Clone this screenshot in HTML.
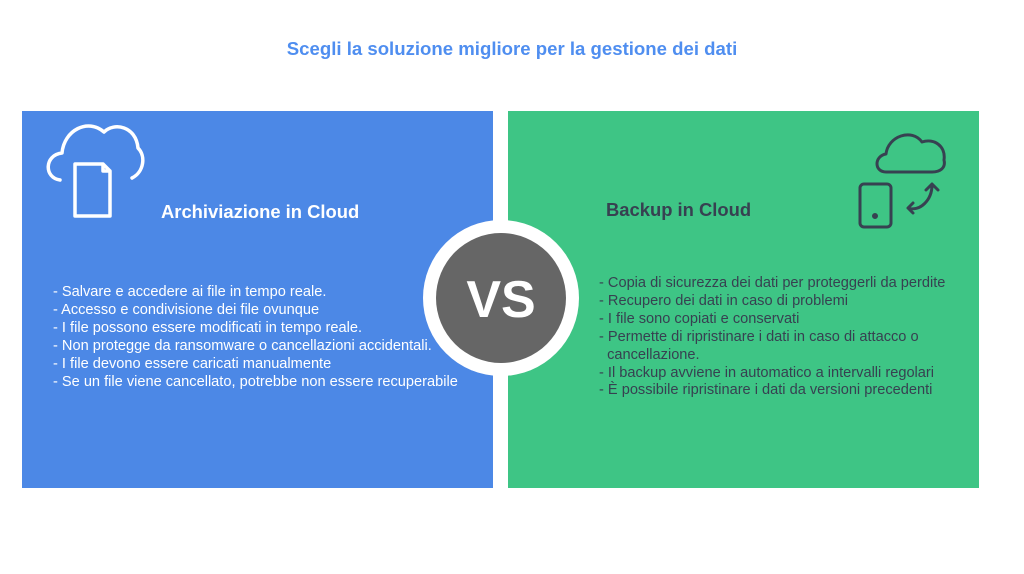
<!DOCTYPE html>
<html><head><meta charset="utf-8"><style>
body{margin:0;width:1024px;height:574px;background:#fff;position:relative;overflow:hidden;font-family:"Liberation Sans",sans-serif}
.t{position:absolute;left:0;width:1024px;top:38px;text-align:center;color:#4f8ef0;font-weight:bold;font-size:18.6px}
.p{position:absolute;top:111px;height:377px;width:471px}
.h{position:absolute;font-weight:bold;font-size:18.4px}
.l{position:absolute;font-size:14.6px;line-height:17.9px;white-space:pre}
</style></head><body>
<div class="t">Scegli la soluzione migliore per la gestione dei dati</div>
<div class="p" style="left:22px;background:#4c88e6"></div>
<div class="p" style="left:508px;background:#3ec585"></div>
<svg style="position:absolute;left:0;top:0" width="1024" height="574">
<g fill="none" stroke="#fff" stroke-width="3.5" stroke-linecap="round" stroke-linejoin="round">
<path d="M60 180 C44 178 44 155 62 153 C64 130 88 118 104 132 C114 122 136 126 138 148 C146 156 144 172 132 178"/>
<path d="M75 164 H103 L110 171 V216 H75 Z M103 164 V171 H110"/>
</g>
<g fill="none" stroke="#374151" stroke-width="3" stroke-linecap="round" stroke-linejoin="round">
<path d="M886 172 C874 172 874 156 886 154 C888 136 912 128 922 142 C934 138 946 146 944 160 C946 168 940 172 932 172 Z"/>
<rect x="860" y="184" width="31" height="43" rx="4"/>
<circle cx="875" cy="216" r="1.5" fill="#374151"/>
<path d="M908 208 C920 212 932 200 932 185 M926 190 L932 184 L938 190 M913 203 L908 208 L913 213"/>
</g>
<circle cx="501" cy="298" r="78" fill="#fff"/>
<circle cx="501" cy="298" r="65" fill="#666"/>
<text x="501" y="317" text-anchor="middle" fill="#fff" font-family="Liberation Sans" font-weight="bold" font-size="52">VS</text>
</svg>
<div class="h" style="left:161px;top:201px;color:#fff">Archiviazione in Cloud</div>
<div class="h" style="left:606px;top:199px;color:#374151">Backup in Cloud</div>
<div class="l" style="left:53px;top:284px;color:#fff">- Salvare e accedere ai file in tempo reale.
- Accesso e condivisione dei file ovunque
- I file possono essere modificati in tempo reale.
- Non protegge da ransomware o cancellazioni accidentali.
- I file devono essere caricati manualmente
- Se un file viene cancellato, potrebbe non essere recuperabile</div>
<div class="l" style="left:599px;top:275px;color:#374151">- Copia di sicurezza dei dati per proteggerli da perdite
- Recupero dei dati in caso di problemi
- I file sono copiati e conservati
- Permette di ripristinare i dati in caso di attacco o
  cancellazione.
- Il backup avviene in automatico a intervalli regolari
- È possibile ripristinare i dati da versioni precedenti</div>
</body></html>
